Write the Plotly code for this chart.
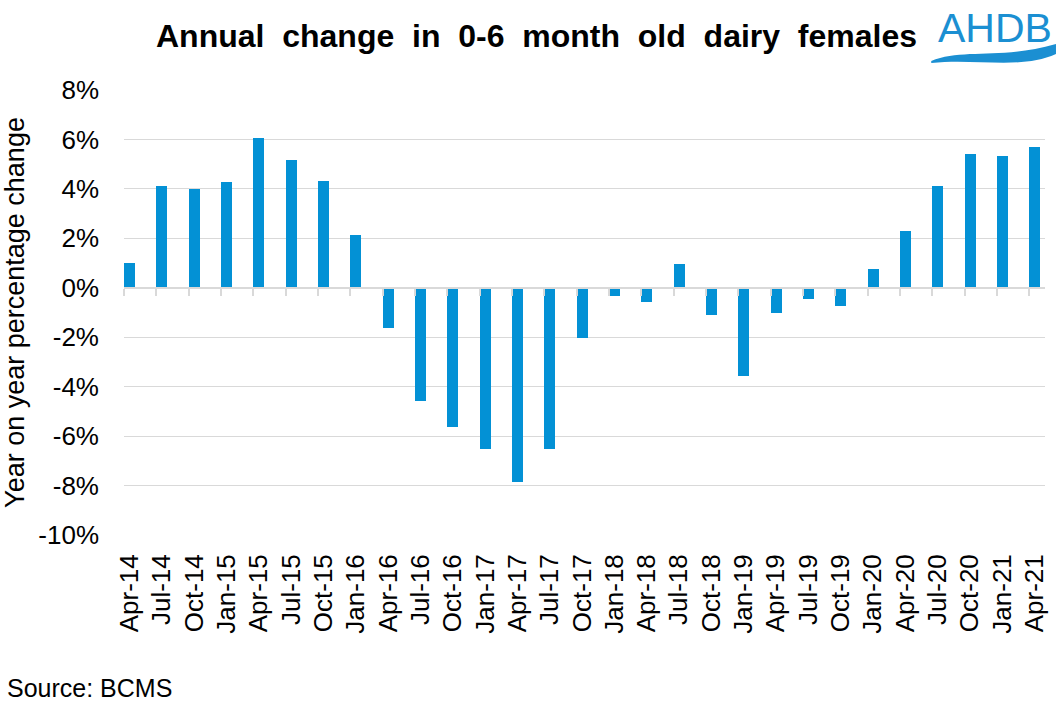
import plotly.graph_objects as go

categories = ["Apr-14", "Jul-14", "Oct-14", "Jan-15", "Apr-15", "Jul-15", "Oct-15", "Jan-16",
              "Apr-16", "Jul-16", "Oct-16", "Jan-17", "Apr-17", "Jul-17", "Oct-17", "Jan-18",
              "Apr-18", "Jul-18", "Oct-18", "Jan-19", "Apr-19", "Jul-19", "Oct-19", "Jan-20",
              "Apr-20", "Jul-20", "Oct-20", "Jan-21", "Apr-21"]
values = [1.0, 4.12, 4.0, 4.29, 6.06, 5.17, 4.33, 2.15,
          -1.63, -4.58, -5.63, -6.52, -7.85, -6.52, -2.03, -0.34,
          -0.59, 0.98, -1.1, -3.58, -1.02, -0.47, -0.74, 0.74,
          2.31, 4.12, 5.42, 5.33, 5.7]
y_ticks = [8, 6, 4, 2, 0, -2, -4, -6, -8, -10]
y_tick_labels = [f"{v}%" for v in y_ticks]

W, H = 1063, 709
L, R, T, B = 122, 1045, 90, 535
FONT = "Liberation Sans, Arial, sans-serif"
BLUE = "#0391d5"
LOGO = "#1b8fd2"
GRID = "#d9d9d9"

pos = list(range(len(categories)))
bar_w = 0.34
xr = [-0.17, len(categories) - 1 + 0.32]


def px(x):
    return (x - L) / (R - L)


def py(y):
    return (B - y) / (B - T)


fig = go.Figure()
fig.add_trace(go.Bar(x=pos, y=values, width=bar_w, marker=dict(color=BLUE, line=dict(width=0)),
                     showlegend=False, hovertemplate="%{text}: %{y:.1f}%<extra></extra>",
                     text=categories, textposition="none"))
fig.add_trace(go.Scatter(x=[None], y=[None], xaxis="x2", showlegend=False, hoverinfo="skip"))

fig.update_layout(
    width=W, height=H, autosize=False,
    margin=dict(l=L, r=W - R, t=T, b=H - B),
    plot_bgcolor="white", paper_bgcolor="white",
    font=dict(family=FONT, color="black"),
    xaxis=dict(range=xr, tickmode="array", tickvals=pos, ticktext=categories,
               tickangle=-90, tickfont=dict(size=26, family=FONT), showgrid=False,
               zeroline=False, showline=False, ticks="", ticklabelstandoff=13,
               fixedrange=True),
    xaxis2=dict(range=xr, overlaying="x", anchor="free", position=10 / 18,
                tickmode="array", tickvals=[p - bar_w / 2 for p in pos], showticklabels=False,
                ticks="outside", ticklen=7, tickwidth=2, tickcolor=GRID,
                showline=True, linecolor=GRID, linewidth=2, showgrid=False, zeroline=False,
                layer="above traces", fixedrange=True),
    yaxis=dict(range=[-10, 8], tickmode="array", tickvals=y_ticks, ticktext=y_tick_labels,
               tickfont=dict(size=26, family=FONT), showgrid=True, gridcolor=GRID, gridwidth=1,
               zeroline=False, showline=False, ticks="", ticklabelstandoff=24,
               title=dict(text="Year on year percentage change", font=dict(size=27, family=FONT),
                          standoff=7),
               fixedrange=True),
    bargap=0,
)

fig.add_annotation(text="<b>Annual  change  in  0-6  month  old  dairy  females</b>",
                   xref="paper", yref="paper", x=px(535), y=py(36), xanchor="center", yanchor="middle",
                   showarrow=False, font=dict(size=32, family=FONT, color="black"))
fig.add_annotation(text="AHDB", xref="paper", yref="paper", x=px(1054), y=py(28),
                   xanchor="right", yanchor="middle", showarrow=False,
                   font=dict(size=41, family=FONT, color=LOGO))
fig.add_annotation(text="Source: BCMS", xref="paper", yref="paper", x=px(3), y=py(688),
                   xanchor="left", yanchor="middle", showarrow=False,
                   font=dict(size=25, family=FONT, color="black"))

# logo swoosh
pts = [(931, 61), (962, 48), (1000, 60), (1056, 44), (1056, 54), (1020, 70), (975, 58), (931, 63)]
p = [(px(a), py(b)) for a, b in pts]
path = (f"M {p[0][0]},{p[0][1]} C {p[1][0]},{p[1][1]} {p[2][0]},{p[2][1]} {p[3][0]},{p[3][1]} "
        f"L {p[4][0]},{p[4][1]} C {p[5][0]},{p[5][1]} {p[6][0]},{p[6][1]} {p[7][0]},{p[7][1]} Z")
fig.add_shape(type="path", path=path, xref="paper", yref="paper",
              fillcolor=LOGO, line=dict(width=0))

fig.write_html("out.html", config={"displayModeBar": False},
               post_script="document.body.style.margin='0';document.body.style.overflow='hidden';")
